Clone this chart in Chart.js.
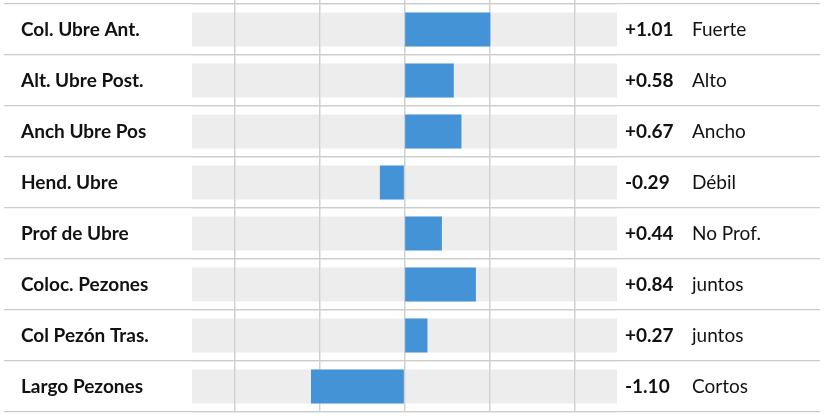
<!DOCTYPE html>
<html>
<head>
<meta charset="utf-8">
<script src="https://cdn.jsdelivr.net/npm/chart.js@4/dist/chart.umd.min.js"></script>
<style>
  body { margin: 0; background: #fff; }
  #wrap { width: 830px; height: 418px; position: relative; }
</style>
</head>
<body>
<div id="wrap"><canvas id="udderChart"></canvas></div>
<script>
// rasgos de ubre
const traits = ["Col. Ubre Ant.", "Alt. Ubre Post.", "Anch Ubre Pos", "Hend. Ubre",
  "Prof de Ubre", "Coloc. Pezones", "Col Pezón Tras.", "Largo Pezones"];
const values = [1.01, 0.58, 0.67, -0.29, 0.44, 0.84, 0.27, -1.10];
const verdicts = ["Fuerte", "Alto", "Ancho", "Débil", "No Prof.", "juntos", "juntos", "Cortos"];
const axisMin = -2.5;
const axisMax = 2.5;
const gridTicks = [-2, -1, 0, 1, 2];

const fontName = "Lato, 'Open Sans', sans-serif";

const trackData = traits.map(function () { return [axisMin, axisMax]; });

// redraw the vertical grid over the grey tracks, under the blue bars
const gridOverTrack = {
  id: 'gridOverTrack',
  afterDatasetDraw(chart, args) {
    if (args.index === 0) {
      chart.scales.x.drawGrid(chart.chartArea);
    }
  },
  afterDraw(chart) {
    const ctx = chart.ctx;
    const yScale = chart.scales.y;
    const xRight = chart.chartArea.right;
    ctx.save();
    ctx.textBaseline = 'middle';
    ctx.textAlign = 'left';
    ctx.fillStyle = '#111';
    for (let i = 0; i < values.length; i++) {
      const y = yScale.getPixelForValue(i);
      const txt = (values[i] > 0 ? '+' : '') + values[i].toFixed(2);
      ctx.font = "bold 19px " + fontName;
      ctx.fillText(txt, xRight + 8, y);
      ctx.font = "19px " + fontName;
      ctx.fillText(verdicts[i], xRight + 75, y);
    }
    ctx.restore();
  }
};

function noPad(scale) {
  scale.paddingTop = 0;
  scale.paddingBottom = 0;
}

new Chart("udderChart", {
  type: "bar",
  data: {
    labels: traits,
    datasets: [{
      data: trackData,
      backgroundColor: "#ededed",
      order: 2
    }, {
      data: values,
      backgroundColor: "#4393d6",
      order: 1
    }]
  },
  options: {
    indexAxis: 'y',
    responsive: true,
    maintainAspectRatio: false,
    animation: false,
    grouped: false,
    categoryPercentage: 1,
    barPercentage: 0.667,
    layout: { padding: { left: 21, right: 10, top: 0, bottom: 6 } },
    plugins: { legend: { display: false }, tooltip: { enabled: false } },
    scales: {
      x: {
        position: 'top',
        min: axisMin,
        max: axisMax,
        afterBuildTicks: function (scale) {
          scale.ticks = gridTicks.map(function (v) { return { value: v }; });
        },
        afterFit: function (scale) {
          scale.height = 4;
          scale.paddingLeft = 0;
          scale.paddingRight = 0;
        },
        grid: { color: '#d0d0d0', lineWidth: 1.3, drawTicks: true, tickLength: 4 },
        border: { display: false },
        ticks: { display: false }
      },
      y: {
        position: 'left',
        offset: true,
        afterFit: function (scale) { scale.width = 171; noPad(scale); },
        grid: { offset: true, color: '#cccccc', lineWidth: 1.3, drawTicks: true, tickLength: 188 },
        border: { display: false },
        ticks: {
          crossAlign: 'far',
          color: '#111',
          font: { family: fontName, size: 19, weight: 'bold' }
        }
      },
      y2: {
        type: 'category',
        position: 'right',
        offset: true,
        afterFit: function (scale) { scale.width = 203; noPad(scale); },
        grid: { offset: true, color: '#cccccc', lineWidth: 1.3, drawTicks: true, tickLength: 203 },
        border: { display: false },
        ticks: { display: false }
      }
    }
  },
  plugins: [gridOverTrack]
});
</script>
</body>
</html>
